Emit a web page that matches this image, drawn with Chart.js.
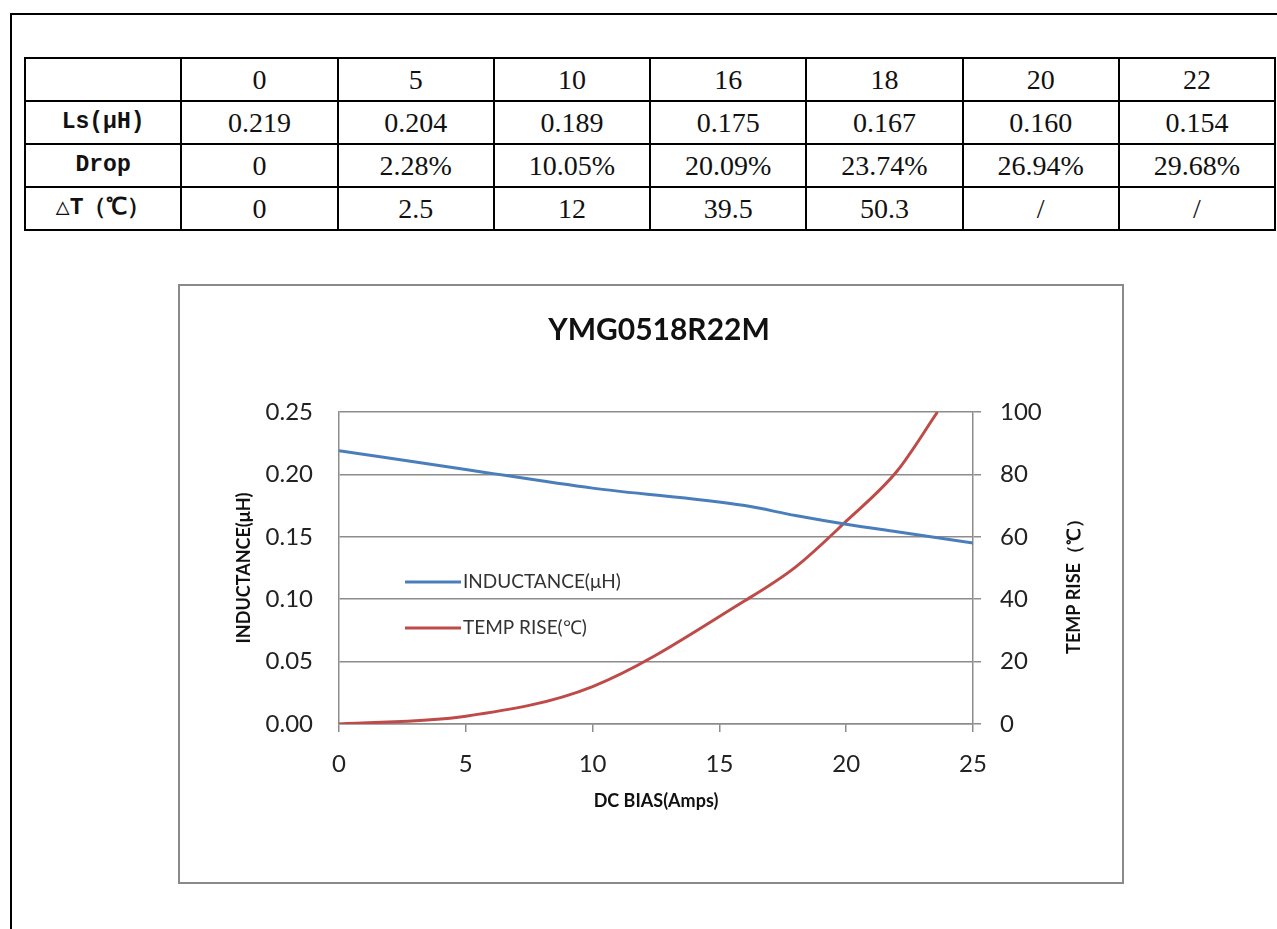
<!DOCTYPE html>
<html>
<head>
<meta charset="utf-8">
<script src="https://cdn.jsdelivr.net/npm/chart.js@4/dist/chart.umd.min.js"></script>
<style>
  html, body { margin: 0; padding: 0; background: #fff; overflow: hidden; }
  body { width: 1277px; height: 929px; position: relative; }
  .pageBox { position: absolute; left: 10px; top: 13px; width: 1300px; height: 960px; border: 2px solid #000; }
  .specTable { position: absolute; left: 24px; top: 57px; width: 1252px; border-collapse: collapse; table-layout: fixed;
    font-family: "Liberation Serif", "DejaVu Serif", serif; font-size: 28px; color: #111; }
  .specTable td { border: 2px solid #000; height: 41px; padding: 0; text-align: center; line-height: 41px; }
  .specTable td.rowHead { font-family: "Liberation Mono", "DejaVu Sans Mono", monospace; font-weight: bold; font-size: 23px; }
  .chartBox { position: absolute; left: 178px; top: 284px; width: 942px; height: 596px; border: 2px solid #8a8a8a; background: #fff; }
</style>
</head>
<body>
<div class="pageBox"></div>
<table class="specTable" id="specTable"></table>
<div class="chartBox"><canvas id="biasChart" width="942" height="596"></canvas></div>
<script>
'use strict'

//표 데이터
const biasAmps = [0, 5, 10, 16, 18, 20, 22];
const lsValues = ['0.219', '0.204', '0.189', '0.175', '0.167', '0.160', '0.154'];
const dropValues = ['0', '2.28%', '10.05%', '20.09%', '23.74%', '26.94%', '29.68%'];
const deltaTValues = ['0', '2.5', '12', '39.5', '50.3', '/', '/'];
const rowHeads = ['', 'Ls(μH)', 'Drop', '△T（℃）'];

//곡선 데이터
const inductanceX = [0, 5, 10, 16, 18, 20, 22, 25];
const inductanceY = [0.219, 0.204, 0.189, 0.175, 0.167, 0.160, 0.154, 0.145];
const tempX = [0, 5, 10, 16, 18, 20, 22, 23.6];
const tempY = [0, 2.5, 12, 39.5, 50.3, 65, 81, 100];

const xTicks = [0, 5, 10, 15, 20, 25];
const rightTitle = 'TEMP RISE（℃）';

const blueLine = '#4a7ebb';
const redLine = '#be4b48';
const gridGray = '#8c8c8c';
const chartFont = 'Lato, "Open Sans", sans-serif';

//표 만들기
function buildTable(){
	const table = document.getElementById('specTable');
	const rows = [biasAmps.map(String), lsValues, dropValues, deltaTValues];
	rows.forEach((cells, i) => {
		const tr = document.createElement('tr');
		const head = document.createElement('td');
		head.className = 'rowHead';
		head.textContent = rowHeads[i];
		tr.appendChild(head);
		cells.forEach((c) => {
			const td = document.createElement('td');
			td.textContent = c;
			tr.appendChild(td);
		});
		table.appendChild(tr);
	});
}

//차트 안쪽 범례 + 오른쪽 축 제목(아래에서 위로)
const innerLegend = {
	id: 'innerLegend',
	afterDraw(chart){
		const ctx = chart.ctx;
		const area = chart.chartArea;
		ctx.save();
		ctx.font = '19px ' + chartFont;
		ctx.textBaseline = 'middle';
		chart.data.datasets.forEach((ds, i) => {
			const y = area.top + 170 + i * 46;
			ctx.strokeStyle = ds.borderColor;
			ctx.lineWidth = 3;
			ctx.beginPath();
			ctx.moveTo(area.left + 66, y);
			ctx.lineTo(area.left + 122, y);
			ctx.stroke();
			ctx.fillStyle = '#333';
			ctx.fillText(ds.label, area.left + 124, y);
		});
		//오른쪽 축 제목
		const s = chart.scales.y1;
		ctx.translate(s.right - 14, (area.top + area.bottom) / 2 + 14);
		ctx.rotate(-Math.PI / 2);
		ctx.textAlign = 'center';
		ctx.fillStyle = '#111';
		ctx.font = 'bold 18px ' + chartFont;
		ctx.fillText(rightTitle, 0, 0);
		ctx.restore();
	}
};

function drawChart(){
	new Chart(document.getElementById('biasChart'), {
		type: 'line',
		data: {
			datasets: [
				{
					label: 'INDUCTANCE(μH)',
					data: inductanceX.map((x, i) => ({ x: x, y: inductanceY[i] })),
					borderColor: blueLine,
					borderWidth: 3,
					pointRadius: 0,
					cubicInterpolationMode: 'monotone',
					yAxisID: 'y'
				},
				{
					label: 'TEMP RISE(℃)',
					data: tempX.map((x, i) => ({ x: x, y: tempY[i] })),
					borderColor: redLine,
					borderWidth: 3,
					pointRadius: 0,
					cubicInterpolationMode: 'monotone',
					yAxisID: 'y1'
				}
			]
		},
		options: {
			responsive: false,
			animation: false,
			layout: { padding: { left: 50, right: 34, top: 0, bottom: 58 } },
			plugins: {
				legend: { display: false },
				tooltip: { enabled: false },
				title: {
					display: true,
					text: 'YMG0518R22M',
					color: '#111',
					font: { family: chartFont, size: 30, weight: 'bold' },
					padding: { top: 26, bottom: 64 }
				}
			},
			scales: {
				x: {
					type: 'linear',
					min: 0,
					max: 25,
					afterBuildTicks: (s) => { s.ticks = xTicks.map((v) => ({ value: v })); },
					afterFit: (s) => { s.height = 100; },
					grid: { drawOnChartArea: false, drawTicks: true, tickLength: 8, color: gridGray, lineWidth: 1.5 },
					border: { color: gridGray, width: 1.5 },
					ticks: { padding: 18, color: '#222', font: { family: chartFont, size: 24 } },
					title: { display: true, text: 'DC BIAS(Amps)', color: '#111', padding: { top: 0, bottom: 12 },
						font: { family: chartFont, size: 18, weight: 'bold' } }
				},
				y: {
					position: 'left',
					min: 0,
					max: 0.25,
					afterFit: (s) => { s.width = 109; },
					grid: { drawTicks: false, color: gridGray, lineWidth: 1.5 },
					border: { color: gridGray, width: 1.5 },
					ticks: { stepSize: 0.05, padding: 26, color: '#222', font: { family: chartFont, size: 24 },
						callback: (v) => v.toFixed(2) },
					title: { display: true, text: 'INDUCTANCE(μH)', color: '#111', padding: { top: 3, bottom: 0 },
						font: { family: chartFont, size: 18, weight: 'bold' } }
				},
				y1: {
					position: 'right',
					min: 0,
					max: 100,
					afterFit: (s) => { s.width = 115; },
					grid: { drawOnChartArea: false, drawTicks: true, tickLength: 8, color: gridGray, lineWidth: 1.5 },
					border: { color: gridGray, width: 1.5 },
					ticks: { stepSize: 20, padding: 19, color: '#222', font: { family: chartFont, size: 24 } }
				}
			}
		},
		plugins: [innerLegend]
	});
}

buildTable();
drawChart();
</script>
</body>
</html>
